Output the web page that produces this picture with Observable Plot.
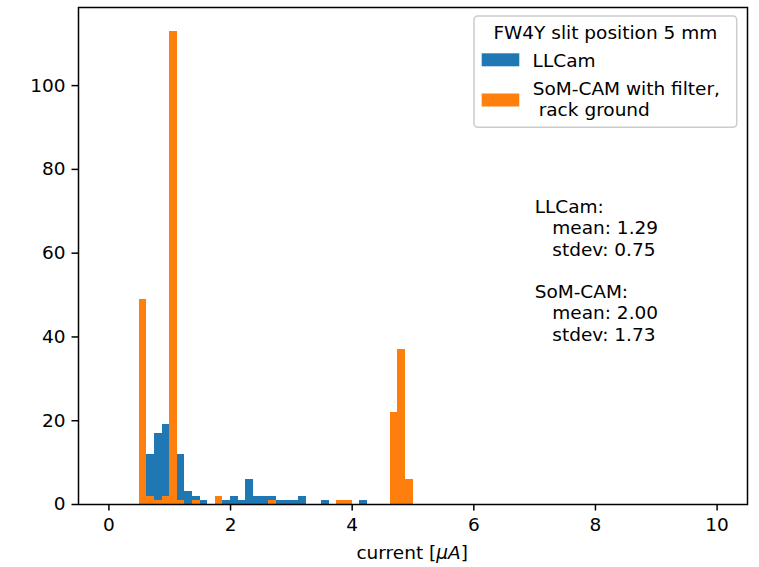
<!DOCTYPE html>
<html>
<head>
<meta charset="utf-8">
<script src="https://cdn.jsdelivr.net/npm/d3@7"></script>
<script src="https://cdn.jsdelivr.net/npm/@observablehq/plot@0.6"></script>
<style>
  html, body { margin: 0; padding: 0; background: #fff; }
  #chart svg { display: block; }
</style>
</head>
<body>
<div id="chart"></div>
<script>
// ---- data ----
const binWidth = 0.125; // histogram bins of width 0.125 from 0
const llcamCounts = [0,0,0,0,0, 12,17,19,36,12, 3,2,1,0,0, 1,2,1,6,2, 2,2,1,1,1, 2,0,0,1,0, 0,0,0,1,0, 0,0,0,0,0];
const somcamCounts = [0,0,0,0,49, 2,1,2,113,1, 0,1,0,0,2, 0,0,0,0,0, 0,1,0,0,0, 0,0,0,0,0, 1,1,0,0,0, 0,0,22,37,6];
const seriesNames = ["LLCam", "SoM-CAM with filter,\n rack ground"];
const seriesColors = ["#1f77b4", "#ff7f0e"];
const legendTitle = "FW4Y slit position 5 mm";
const xTicks = [0, 2, 4, 6, 8, 10];
const yTicks = [0, 20, 40, 60, 80, 100];
const statsLines = ["LLCam:", "   mean: 1.29", "   stdev: 0.75", "", "SoM-CAM:", "   mean: 2.00", "   stdev: 1.73"];
const statsPos = {x: 7, y: 73.2};

const toBins = counts => counts
  .map((c, i) => ({x1: i * binWidth, x2: (i + 1) * binWidth, y: c}))
  .filter(d => d.y > 0);

const FS = 18.5;
const font = "DejaVu Sans";

const plot = Plot.plot({
  width: 759,
  height: 567,
  marginLeft: 78,
  marginRight: 12,
  marginTop: 7,
  marginBottom: 63,
  style: {fontSize: FS + "px", fontFamily: font, color: "black", background: "white"},
  x: {domain: [-0.5, 10.5]},
  y: {domain: [0, 118.65]},
  marks: [
    Plot.rectY(toBins(llcamCounts), {x1: "x1", x2: "x2", y: "y", fill: seriesColors[0], inset: 0, shapeRendering: "crispEdges"}),
    Plot.rectY(toBins(somcamCounts), {x1: "x1", x2: "x2", y: "y", fill: seriesColors[1], inset: 0, shapeRendering: "crispEdges"}),
    Plot.axisX({ticks: xTicks, tickSize: 6.5, tickPadding: 6.5, strokeWidth: 1.5, label: null, tickFormat: d => String(d)}),
    Plot.axisY({ticks: yTicks, tickSize: 6.5, tickPadding: 6.5, strokeWidth: 1.5, label: null, tickFormat: d => String(d)}),
    Plot.frame({stroke: "black", strokeWidth: 1.5}),
    Plot.text([statsLines.map(s => s.replace(/ /g, "\u00a0")).join("\n")], {
      x: statsPos.x, y: statsPos.y, text: d => d, textAnchor: "start", lineAnchor: "top",
      lineHeight: 1.15, fontSize: FS, fill: "black"
    })
  ]
});

document.getElementById("chart").appendChild(plot);

// ---- x label and legend (added as svg text) ----
const svg = d3.select(plot);
const xl = svg.append("text")
  .attr("x", 412.2).attr("y", 559)
  .attr("text-anchor", "middle")
  .attr("font-family", font).attr("font-size", FS).attr("fill", "black");
xl.append("tspan").text("current [");
xl.append("tspan").attr("font-style", "italic").text("μA");
xl.append("tspan").text("]");

const lg = svg.append("g").attr("font-family", font).attr("font-size", FS).attr("fill", "black")
  .attr("text-anchor", "start");
lg.append("rect")
  .attr("x", 474).attr("y", 16).attr("width", 262.7).attr("height", 111.3)
  .attr("rx", 3.7).attr("fill", "white").attr("fill-opacity", 0.8)
  .attr("stroke", "#cccccc").attr("stroke-width", 1.5);
lg.append("text").attr("x", 605.3).attr("y", 39).attr("text-anchor", "middle").text(legendTitle);
lg.append("rect").attr("x", 481.7).attr("y", 53.3).attr("width", 37.6).attr("height", 13).attr("fill", seriesColors[0]);
lg.append("text").attr("x", 532.6).attr("y", 66.5).attr("text-anchor", "start").text(seriesNames[0]);
lg.append("rect").attr("x", 481.7).attr("y", 93.5).attr("width", 37.6).attr("height", 13).attr("fill", seriesColors[1]);
const t2 = lg.append("text").attr("text-anchor", "start");
const parts = seriesNames[1].split("\n");
t2.append("tspan").attr("x", 532.8).attr("y", 95).text(parts[0]);
t2.append("tspan").attr("x", 532.8).attr("y", 116).text(parts[1].replace(/ /g, "\u00a0"));
</script>
</body>
</html>
